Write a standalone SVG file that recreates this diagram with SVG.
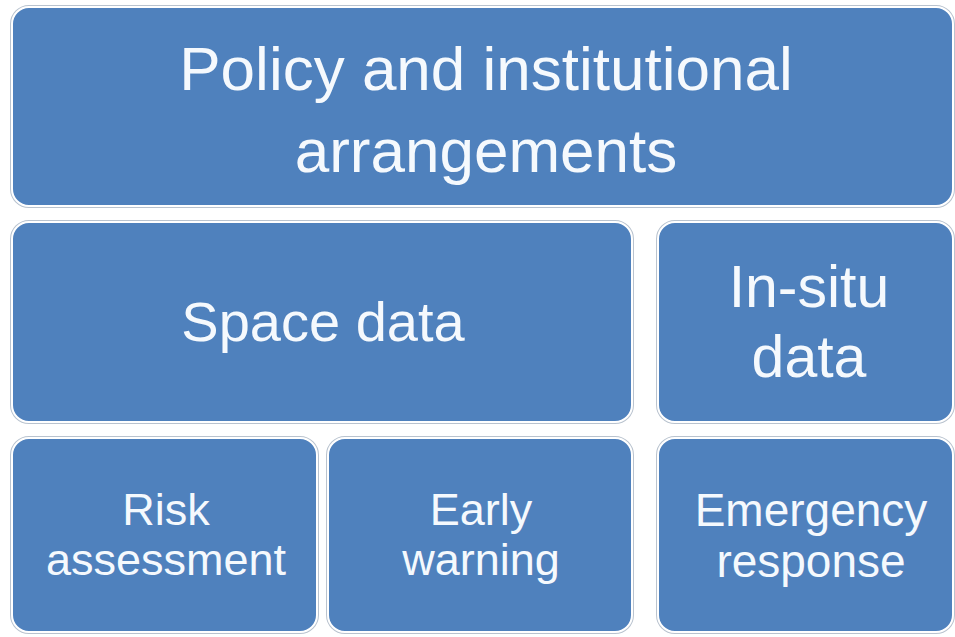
<svg xmlns="http://www.w3.org/2000/svg" width="955" height="637" viewBox="0 0 955 637">
<style>
.edge{fill:none;stroke:#b9c3cf;stroke-width:4}
.box{fill:#4f81bd;stroke:#ffffff;stroke-width:2}
.t{fill:#f5f9fd;font-family:"Liberation Sans",Arial,sans-serif;text-anchor:middle}
</style>
<rect width="955" height="637" fill="#ffffff"/>
<g id="connectors"></g>
<g id="policy">
<rect class="edge" x="12" y="7" width="941" height="199" rx="17"/>
<rect class="box" x="12" y="7" width="941" height="199" rx="17"/>
<text class="t" x="486" y="90" font-size="62">Policy and institutional</text>
<text class="t" x="486" y="172" font-size="62">arrangements</text>
</g>
<g id="space">
<rect class="edge" x="12" y="222" width="620" height="200" rx="17"/>
<rect class="box" x="12" y="222" width="620" height="200" rx="17"/>
<text class="t" x="323" y="341" font-size="56">Space data</text>
</g>
<g id="insitu">
<rect class="edge" x="658" y="222" width="295" height="200" rx="17"/>
<rect class="box" x="658" y="222" width="295" height="200" rx="17"/>
<text class="t" x="809" y="307" font-size="59">In-situ</text>
<text class="t" x="809" y="377" font-size="59">data</text>
</g>
<g id="risk">
<rect class="edge" x="12" y="438" width="305" height="194" rx="17"/>
<rect class="box" x="12" y="438" width="305" height="194" rx="17"/>
<text class="t" x="166" y="525" font-size="45">Risk</text>
<text class="t" x="166" y="575" font-size="45">assessment</text>
</g>
<g id="early">
<rect class="edge" x="328" y="438" width="304" height="194" rx="17"/>
<rect class="box" x="328" y="438" width="304" height="194" rx="17"/>
<text class="t" x="481" y="525" font-size="45">Early</text>
<text class="t" x="481" y="575" font-size="45">warning</text>
</g>
<g id="emergency">
<rect class="edge" x="658" y="438" width="295" height="194" rx="17"/>
<rect class="box" x="658" y="438" width="295" height="194" rx="17"/>
<text class="t" x="811" y="526" font-size="46">Emergency</text>
<text class="t" x="811" y="577" font-size="46">response</text>
</g>
</svg>
